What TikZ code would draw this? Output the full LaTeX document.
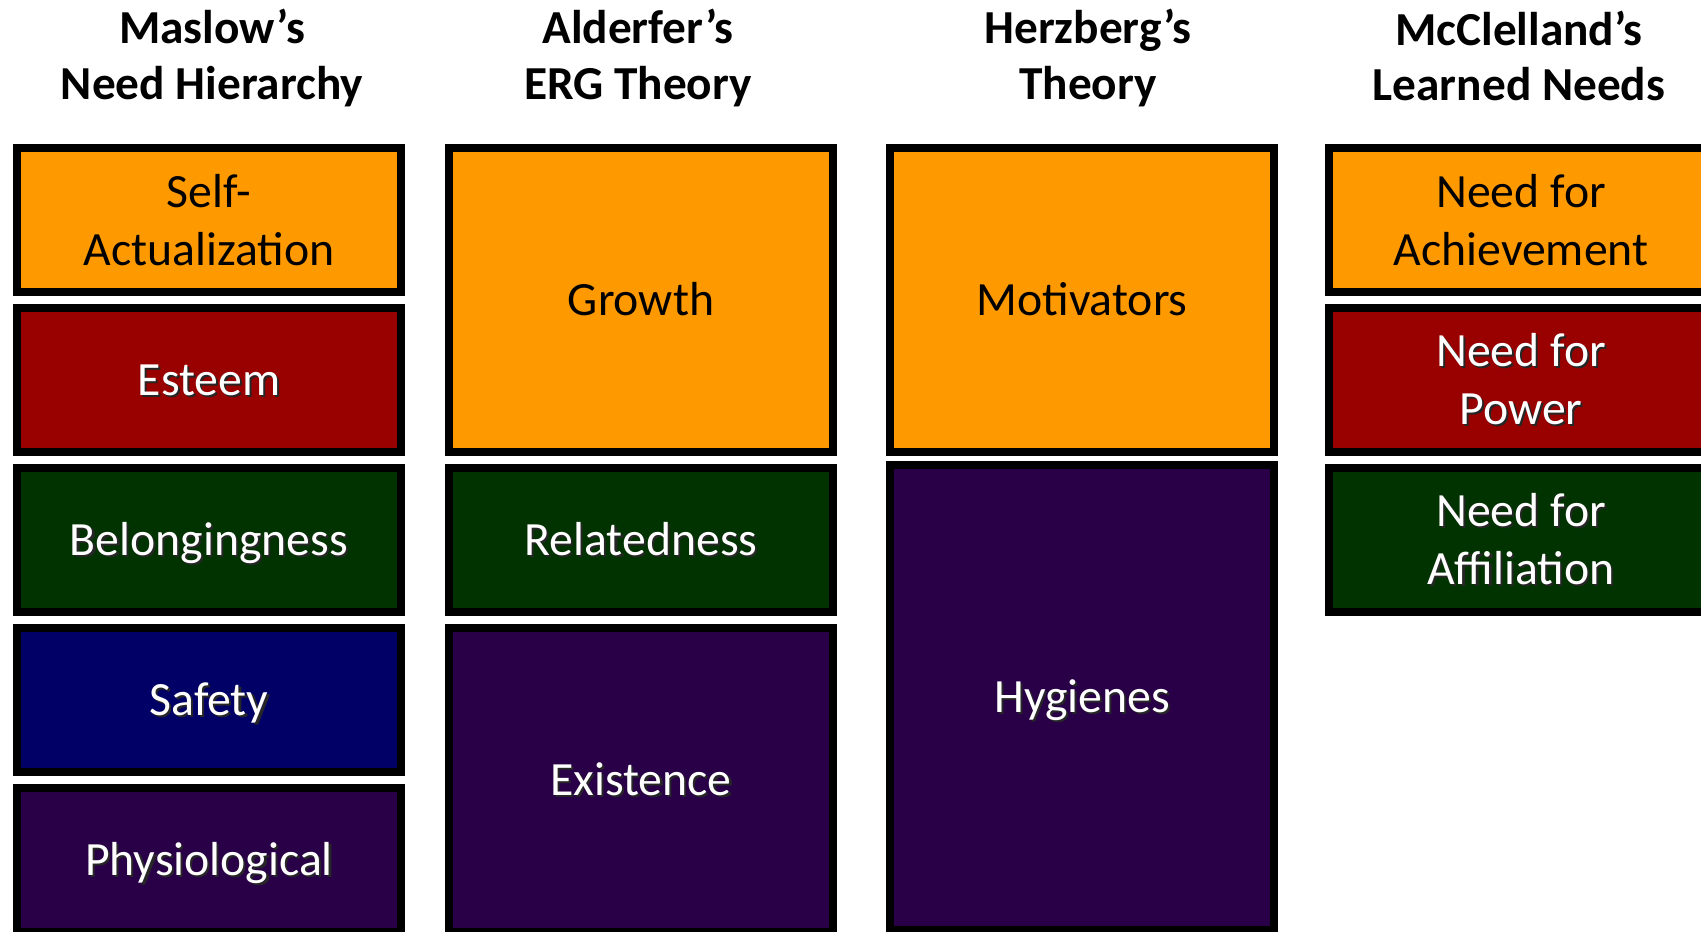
\documentclass[tikz,border=0pt]{standalone}
\usepackage{fontspec}
\setmainfont{Carlito}
\definecolor{orangebox}{RGB}{255,153,0}
\definecolor{redbox}{RGB}{153,0,0}
\definecolor{greenbox}{RGB}{0,51,0}
\definecolor{bluebox}{RGB}{0,0,102}
\definecolor{purplebox}{RGB}{41,0,71}
\newcommand{\shd}[1]{\leavevmode\rlap{\hspace{1.6pt}\raisebox{-1.6pt}{\color{black!85}#1}}#1}
\begin{document}
\begin{tikzpicture}[x=0.75pt,y=-0.75pt]
            \tikzstyle{titre}=[align=center,font=\fontsize{35.5}{41.5}\selectfont\bfseries]
            \tikzstyle{boite}=[rectangle,draw=black,line width=6pt,minimum width=288pt,inner sep=0pt,align=center,font=\fontsize{35.8}{43.7}\selectfont]
            \tikzstyle{ligne}=[text height=22.6pt,text depth=0pt]
            \tikzstyle{petite}=[boite,minimum height=108pt]
            \tikzstyle{grande}=[boite,minimum height=228pt]
            \tikzstyle{clair}=[text=black]
            \tikzstyle{sombre}=[text=white]
            \clip (0,0) rectangle (1701,931);
            \useasboundingbox (0,0) rectangle (1701,931);
            \node[titre] (maslow) at (212,58) {Maslow’s\\Need Hierarchy};
            \node[titre] (alderfer) at (638,58) {Alderfer’s\\ERG Theory};
            \node[titre] (herzberg) at (1088,58) {Herzberg’s\\Theory};
            \node[titre] (mcclelland) at (1519,56) {McClelland’s\\Learned Needs};
            \node[petite,clair,fill=orangebox] (self) at (209,220) {Self-\\Actualization};
            \node[petite,ligne,sombre,fill=redbox] (esteem) at (209,380) {\shd{Esteem}};
            \node[petite,ligne,sombre,fill=greenbox] (belong) at (209,540) {\shd{Belongingness}};
            \node[petite,ligne,sombre,fill=bluebox] (safety) at (209,700) {\shd{Safety}};
            \node[petite,ligne,sombre,fill=purplebox] (physio) at (209,860) {\shd{Physiological}};
            \node[grande,ligne,clair,fill=orangebox] (growth) at (641,300) {Growth};
            \node[petite,ligne,sombre,fill=greenbox] (related) at (641,540) {\shd{Relatedness}};
            \node[grande,ligne,sombre,fill=purplebox] (exist) at (641,780) {\shd{Existence}};
            \node[grande,ligne,clair,fill=orangebox] (motiv) at (1082,300) {Motivators};
            \node[boite,ligne,sombre,fill=purplebox,minimum height=348.75pt] (hyg) at (1082,697.5) {\shd{Hygienes}};
            \node[petite,clair,fill=orangebox] (achieve) at (1521,220) {Need for\\Achievement};
            \node[petite,sombre,fill=redbox] (power) at (1521,380) {\shd{Need for}\\\shd{Power}};
            \node[petite,sombre,fill=greenbox] (affil) at (1521,540) {\shd{Need for}\\\shd{Affiliation}};
        \end{tikzpicture}
\end{document}
